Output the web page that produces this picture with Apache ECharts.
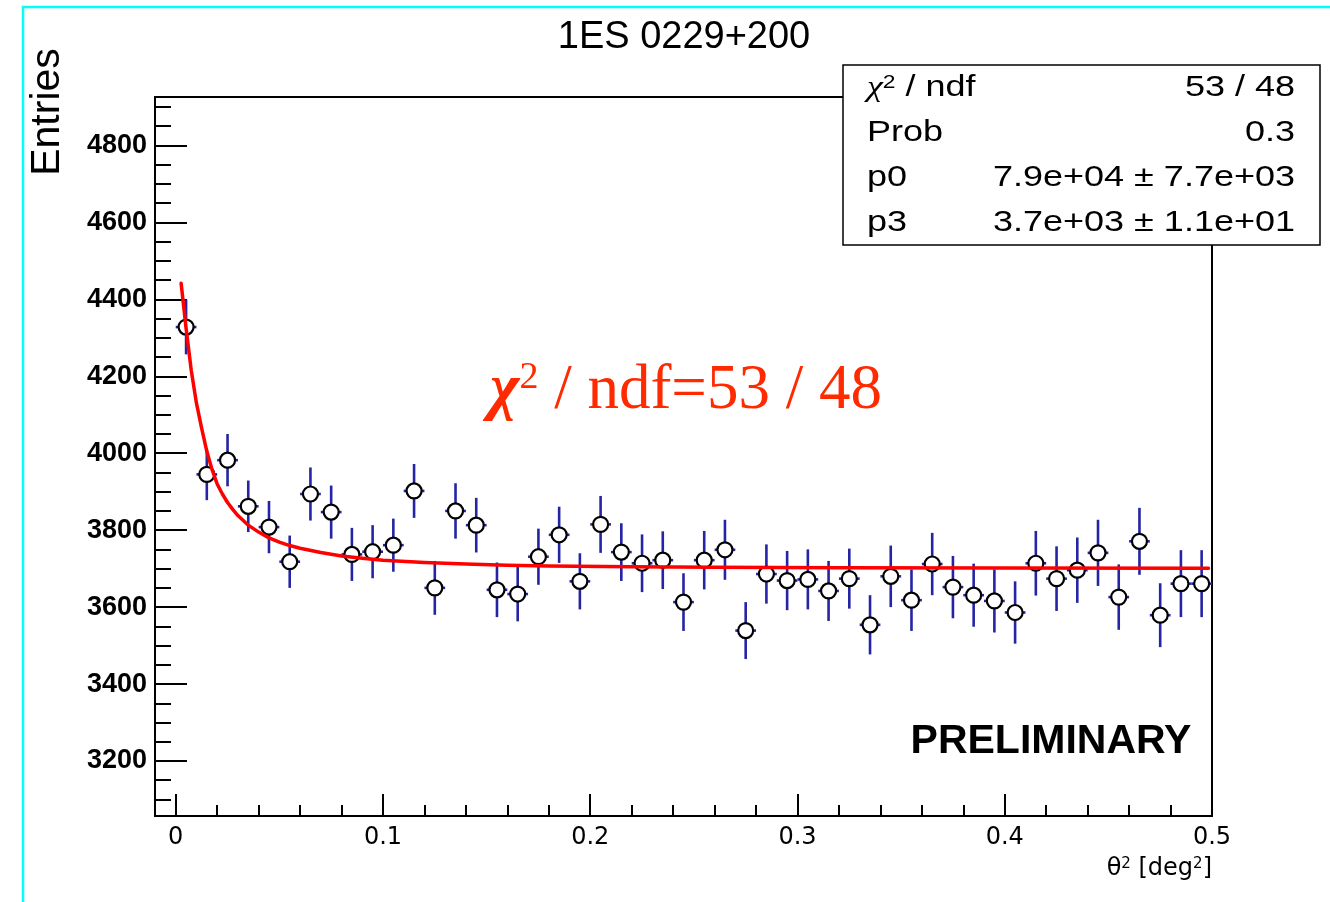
<!DOCTYPE html>
<html><head><meta charset="utf-8">
<script src="https://cdn.jsdelivr.net/npm/echarts@6/dist/echarts.min.js"></script>
<style>html,body{margin:0;padding:0;background:#fff}#c{width:1330px;height:902px}</style>
</head><body><div id="c"></div>
<script>
// ---- data ----
const binCenters = [0.005,0.015,0.025,0.035,0.045,0.055,0.065,0.075,0.085,0.095,
  0.105,0.115,0.125,0.135,0.145,0.155,0.165,0.175,0.185,0.195,
  0.205,0.215,0.225,0.235,0.245,0.255,0.265,0.275,0.285,0.295,
  0.305,0.315,0.325,0.335,0.345,0.355,0.365,0.375,0.385,0.395,
  0.405,0.415,0.425,0.435,0.445,0.455,0.465,0.475,0.485,0.495];
const entries = [4328,3945,3982,3862,3808,3718,3894,3847,3737,3744,
  3761,3902,3650,3850,3813,3645,3634,3731,3788,3667,
  3815,3743,3714,3722,3613,3722,3749,3539,3686,3669,
  3672,3642,3674,3554,3680,3618,3712,3652,3631,3616,
  3586,3714,3674,3696,3741,3626,3771,3579,3661,3661];
const errors = [71,67,68,67,68,68,69,69,69,69,
  69,70,70,72,71,71,71,73,73,73,
  74,75,75,75,75,76,78,74,77,77,
  78,78,78,77,80,80,81,81,82,82,
  81,84,84,85,86,85,87,83,87,87];
const binHalfWidth = 0.005;
const fitX = [0.0026,0.005,0.0075,0.010,0.0125,0.015,0.0175,0.020,0.0225,0.025,0.0275,0.030,0.035,0.040,0.045,0.050,0.055,0.060,0.070,0.080,0.090,0.100,0.120,0.140,0.160,0.180,0.22,0.26,0.32,0.40,0.4983];
const fitY = [4442,4325,4215,4130,4065,4005,3958,3920,3894,3872,3854,3838,3813,3795,3780,3769,3760,3753,3742,3733,3727,3722,3716,3712,3709,3707,3705,3703.5,3702,3701.5,3701];
const xMajorTicks = [0,0.1,0.2,0.3,0.4,0.5];
const xMinorTicks = [0.02,0.04,0.06,0.08,0.12,0.14,0.16,0.18,0.22,0.24,0.26,0.28,0.32,0.34,0.36,0.38,0.42,0.44,0.46,0.48];
const yMajorTicks = [3200,3400,3600,3800,4000,4200,4400,4600,4800];
const yMinorTicks = [3100,3150,3250,3300,3350,3450,3500,3550,3650,3700,3750,3850,3900,3950,4050,4100,4150,4250,4300,4350,4450,4500,4550,4650,4700,4750,4850,4900];
const titleText = '1ES 0229+200';
const statsLabels = ['{g|χ}{s|2}{a| / ndf}', 'Prob', 'p0', 'p3'];
const statsValues = ['53 / 48', '0.3', '7.9e+04 ± 7.7e+03', '3.7e+03 ± 1.1e+01'];

const chart = echarts.init(document.getElementById('c'));
const xr = {min:-0.01, max:0.5};
const yr = {min:3057, max:4926};
const errColor = '#2424a4';

const pts = binCenters.map((x,i)=>[x, entries[i], errors[i]]);
const fitData = fitX.map((x,i)=>[x, fitY[i]]);

const sansStats = 'Liberation Sans';
const statsGraphics = [];
statsGraphics.push({type:'rect', shape:{x:843, y:65, width:477, height:180},
  style:{fill:'#fff', stroke:'#000', lineWidth:1.5}, z:100});
statsLabels.forEach((t,i)=>{
  statsGraphics.push({type:'text', x:867, y:88+45*i, scaleX:1.2, z:101,
    style:{text:t, fill:'#000', fontSize:30, fontFamily:sansStats,
      align:'left', verticalAlign:'middle', textAlign:'left', textVerticalAlign:'middle',
      rich:{a:{fontSize:30, fontFamily:sansStats, fill:'#000'},
            g:{fontSize:30, fontFamily:'Liberation Serif', fontStyle:'italic', fill:'#000'},
            s:{fontSize:19, fontFamily:sansStats, fill:'#000', verticalAlign:'top'}}}});
});
statsValues.forEach((t,i)=>{
  statsGraphics.push({type:'text', x:1295, y:88+45*i, scaleX:1.2, z:101,
    style:{text:t, fill:'#000', fontSize:30, fontFamily:sansStats,
      align:'right', verticalAlign:'middle', textAlign:'right', textVerticalAlign:'middle'}});
});

const option = {
  animation:false,
  backgroundColor:'#fff',
  grid:{left:155, right:118, top:97, bottom:86, show:true, borderColor:'#000', borderWidth:2, backgroundColor:'transparent'},
  xAxis:[
    {type:'value', min:xr.min, max:xr.max, position:'bottom',
     axisLine:{show:true, onZero:false, lineStyle:{color:'#000', width:2}},
     axisTick:{show:true, inside:true, length:22, customValues:xMajorTicks, lineStyle:{color:'#000', width:2}},
     axisLabel:{show:true, customValues:xMajorTicks, margin:10, color:'#000', fontFamily:'DejaVu Sans', fontSize:24,
       formatter:v=>String(v)},
     splitLine:{show:false}},
    {type:'value', min:xr.min, max:xr.max, position:'bottom',
     axisLine:{show:false, onZero:false},
     axisTick:{show:true, inside:true, length:11, customValues:xMinorTicks, lineStyle:{color:'#000', width:2}},
     axisLabel:{show:false}, splitLine:{show:false}}
  ],
  yAxis:[
    {type:'value', min:yr.min, max:yr.max, position:'left',
     axisLine:{show:true, onZero:false, lineStyle:{color:'#000', width:2}},
     axisTick:{show:true, inside:true, length:32, customValues:yMajorTicks, lineStyle:{color:'#000', width:2}},
     axisLabel:{show:true, customValues:yMajorTicks, margin:8, color:'#000', fontFamily:'Liberation Sans', fontWeight:'bold', fontSize:27,
       formatter:v=>String(v)},
     splitLine:{show:false}},
    {type:'value', min:yr.min, max:yr.max, position:'left',
     axisLine:{show:false, onZero:false},
     axisTick:{show:true, inside:true, length:16, customValues:yMinorTicks, lineStyle:{color:'#000', width:2}},
     axisLabel:{show:false}, splitLine:{show:false}}
  ],
  series:[
    {type:'custom', xAxisIndex:0, yAxisIndex:0, z:2, data:pts, encode:{x:0, y:1},
     renderItem:(params, api)=>{
       const x = api.value(0), v = api.value(1), e = api.value(2);
       const t = api.coord([x, v+e]), b = api.coord([x, v-e]);
       const l = api.coord([x-binHalfWidth, v]), r = api.coord([x+binHalfWidth, v]);
       return {type:'group', children:[
         {type:'line', shape:{x1:t[0], y1:t[1], x2:b[0], y2:b[1]}, style:{stroke:errColor, lineWidth:2.6}},
         {type:'line', shape:{x1:l[0], y1:l[1], x2:r[0], y2:r[1]}, style:{stroke:errColor, lineWidth:2.6}}
       ]};
     }},
    {type:'scatter', xAxisIndex:0, yAxisIndex:0, z:3, data:pts.map(p=>[p[0],p[1]]),
     symbol:'circle', symbolSize:15,
     itemStyle:{color:'#fff', borderColor:'#000', borderWidth:2.2, opacity:1}},
    {type:'line', xAxisIndex:0, yAxisIndex:0, z:4, data:fitData, showSymbol:false, symbol:'none',
     smooth:false, lineStyle:{color:'#ff0000', width:3.5, join:'round', cap:'round'}}
  ],
  graphic:[
    {type:'rect', shape:{x:23, y:7, width:1400, height:1000}, style:{fill:'none', stroke:'#00ffff', lineWidth:2.5}, z:0},
    {type:'text', x:684, y:38, style:{text:titleText, fill:'#000', fontSize:38, fontFamily:'Liberation Sans',
      align:'center', verticalAlign:'middle', textAlign:'center', textVerticalAlign:'middle'}},
    {type:'text', x:48, y:112, rotation:Math.PI/2, style:{text:'Entries', fill:'#000', fontSize:41, fontFamily:'Liberation Sans',
      align:'center', verticalAlign:'middle', textAlign:'center', textVerticalAlign:'middle'}},
    {type:'text', x:1212, y:869, style:{text:'{a|θ}{s|2}{a| [deg}{s|2}{a|]}', fill:'#000', fontSize:24, fontFamily:'DejaVu Sans',
      align:'right', verticalAlign:'middle', textAlign:'right', textVerticalAlign:'middle',
      rich:{a:{fontSize:24, fontFamily:'DejaVu Sans', fill:'#000'}, s:{fontSize:15, fontFamily:'DejaVu Sans', fill:'#000', verticalAlign:'top'}}}},
    {type:'text', x:1051, y:742, style:{text:'PRELIMINARY', fill:'#000', fontSize:41, fontWeight:'bold', fontFamily:'Liberation Sans',
      align:'center', verticalAlign:'middle', textAlign:'center', textVerticalAlign:'middle'}},
    {type:'text', x:686, y:391, z:50, style:{text:'{c|χ}{s|2}{t| / ndf=53 / 48}', fill:'#ff2a00', fontSize:63, fontFamily:'Liberation Serif',
      align:'center', verticalAlign:'middle', textAlign:'center', textVerticalAlign:'middle',
      rich:{c:{fontSize:63, fontFamily:'Liberation Serif', fontWeight:'bold', fontStyle:'italic', fill:'#ff2a00'},
            s:{fontSize:38, fontFamily:'Liberation Serif', fill:'#ff2a00', verticalAlign:'top'},
            t:{fontSize:63, fontFamily:'Liberation Serif', fill:'#ff2a00'}}}},
    ...statsGraphics
  ]
};
chart.setOption(option);
</script></body></html>
